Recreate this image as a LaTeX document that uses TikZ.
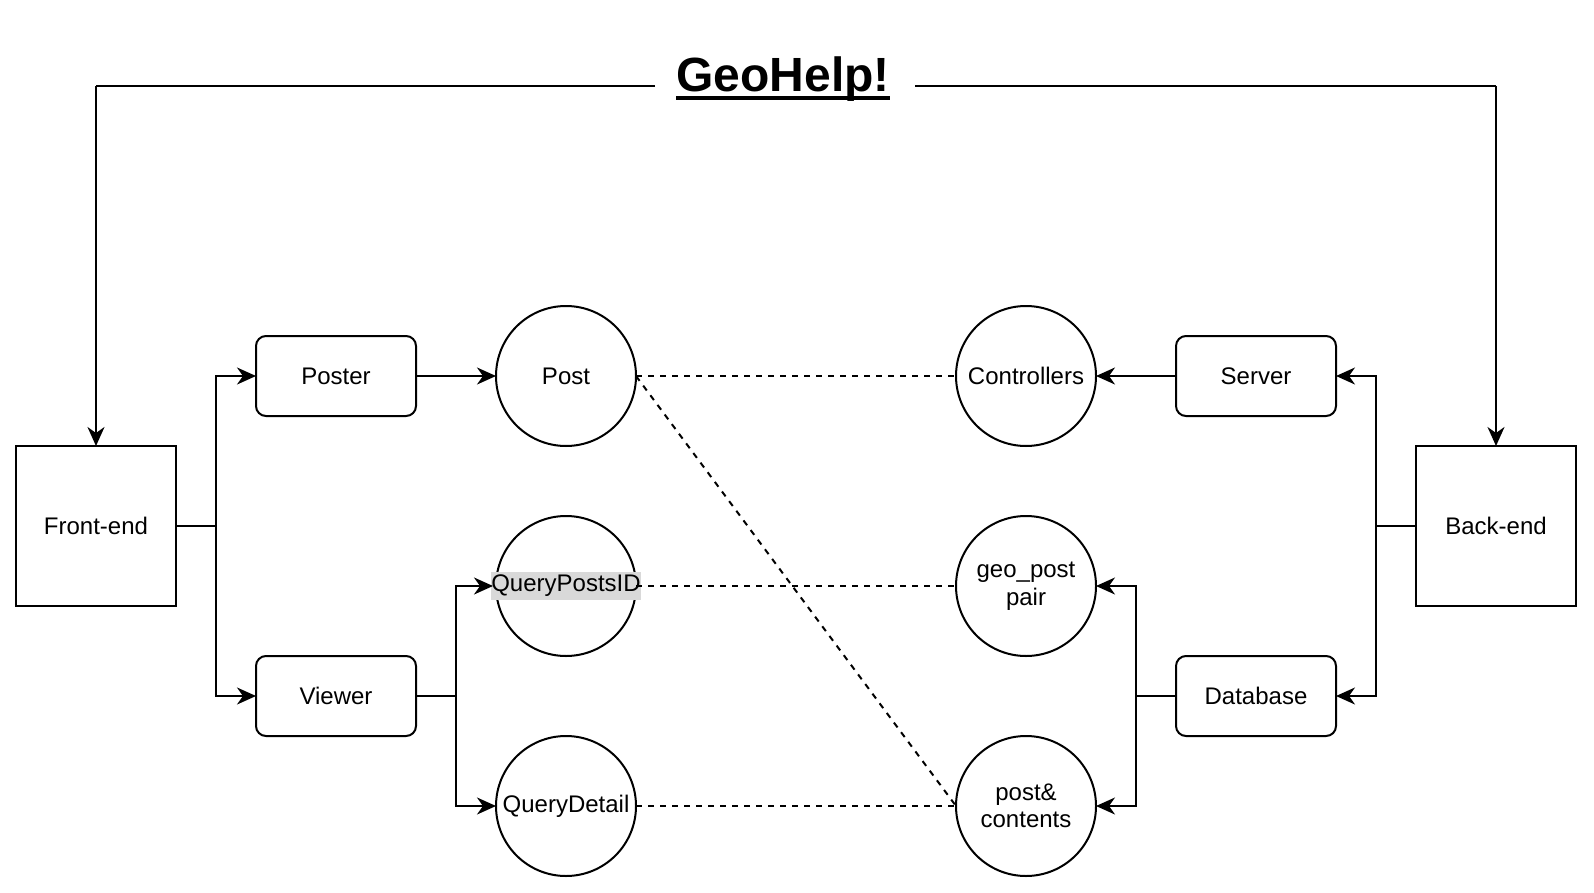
\documentclass[tikz,border=0pt]{standalone}
\usepackage{fontspec}
\setmainfont{Liberation Sans}
\usetikzlibrary{positioning,arrows.meta}
\definecolor{lblgray}{HTML}{D9D9D9}

\begin{document}
\begin{tikzpicture}[x=1pt, y=-1pt,
  every node/.style = {font=\fontsize{24}{27.5}\selectfont, outer sep=0pt},
  sq/.style = {draw, line width=2pt, minimum width=160pt, minimum height=160pt},
  rbox/.style = {draw, line width=2pt, rounded corners=10pt, minimum width=160pt, minimum height=80pt},
  circ/.style = {draw, circle, line width=2pt, minimum size=140pt, inner sep=0pt, align=center},
  link/.style = {line width=2pt, -{Stealth[length=19pt, width=17pt, inset=6pt]}},
  tie/.style = {line width=2pt, dash pattern=on 6pt off 6pt}]
\useasboundingbox (0,0) rectangle (1594,893);

% title
\node[font=\fontsize{48}{52}\selectfont\bfseries, inner sep=0pt, anchor=base] (title) at (783,92) {GeoHelp!};
\draw[line width=4pt] ([yshift=-6pt]title.base west) -- ([yshift=-6pt]title.base east);
\coordinate (tl) at (655,86);
\coordinate (tr) at (915,86);

% front-end side
\node[sq] (fe) at (96,526) {Front-end};
\node[rbox] (poster) at (336,376) {Poster};
\node[rbox] (viewer) at (336,696) {Viewer};
\node[circ] (post) [right=80pt of poster] {Post};
\node[circ] (qid) at (566,586) {\makebox[0pt]{\setlength\fboxsep{0pt}\colorbox{lblgray}{\strut QueryPostsID}}};
\node[circ] (qd) at (566,806) {QueryDetail};

% back-end side
\node[sq] (be) at (1496,526) {Back-end};
\node[circ] (ctrl) at (1026,376) {Controllers};
\node[rbox] (server) [right=80pt of ctrl] {Server};
\node[rbox] (db) at (1256,696) {Database};
\node[circ] (geo) at (1026,586) {geo\_post\\pair};
\node[circ] (pc) at (1026,806) {post\&\\contents};

\draw[line width=2pt] (tl) -- (tl -| fe);
\draw[link] (tl -| fe) -- (fe.north);
\draw[line width=2pt] (tr) -- (tr -| be);
\draw[link] (tr -| be) -- (be.north);

\draw[link] (fe.east) -- ++(40,0) |- (poster.west);
\draw[link] (fe.east) -- ++(40,0) |- (viewer.west);
\draw[link] (poster) -- (post);
\draw[link, shorten >=3pt] (viewer.east) -- ++(40,0) |- (qid.west);
\draw[link] (viewer.east) -- ++(40,0) |- (qd.west);

\draw[link] (be.west) -- ++(-40,0) |- (server.east);
\draw[link] (be.west) -- ++(-40,0) |- (db.east);
\draw[link] (server) -- (ctrl);
\draw[link] (db.west) -- ++(-40,0) |- (geo.east);
\draw[link] (db.west) -- ++(-40,0) |- (pc.east);

\draw[tie] (post) -- (ctrl);
\draw[tie] (qid) -- (geo);
\draw[tie] (qd) -- (pc);
\draw[tie] (post.east) -- (pc.west);
\end{tikzpicture}
\end{document}
